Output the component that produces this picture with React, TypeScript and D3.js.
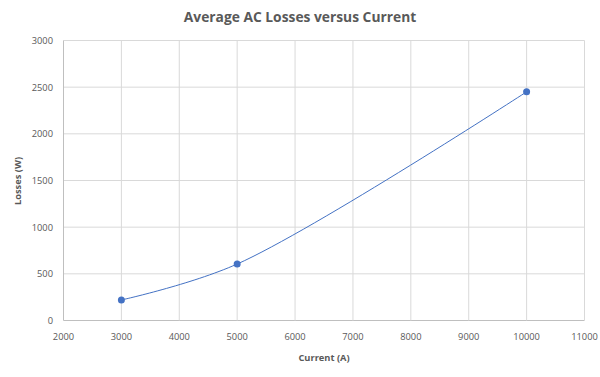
import React from "react";
import * as d3 from "d3";

const currents = [3000, 5000, 10000];
const losses = [220, 605, 2450];
const xTicks = [2000, 3000, 4000, 5000, 6000, 7000, 8000, 9000, 10000, 11000];
const yTicks = [0, 500, 1000, 1500, 2000, 2500, 3000];

export default function App() {
  const W = 600, H = 377;
  const x = d3.scaleLinear().domain([2000, 11000]).range([63.5, 584.5]);
  const y = d3.scaleLinear().domain([0, 3000]).range([320.5, 40.5]);
  const pts: [number, number][] = currents.map((c, i) => [x(c), y(losses[i])]);
  const line = d3.line().curve(d3.curveCatmullRom.alpha(0.5))(pts) || "";
  const font = "Open Sans, sans-serif";
  const grey = "#595959";
  return (
    <svg width={W} height={H} style={{ position: "absolute", left: 0, top: 0, background: "#fff" }}>
      <rect width={W} height={H} fill="#fff" />
      <text x={300} y={22} textAnchor="middle" fontFamily={font} fontSize={13.8} fontWeight="bold" fill={grey}>
        Average AC Losses versus Current
      </text>
      {yTicks.map((t) => (
        <line key={"gy" + t} x1={x(2000)} x2={x(11000)} y1={y(t)} y2={y(t)} stroke={t === 0 ? "#bfbfbf" : "#d9d9d9"} strokeWidth={1} />
      ))}
      {xTicks.map((t) => (
        <line key={"gx" + t} x1={x(t)} x2={x(t)} y1={y(0)} y2={y(3000)} stroke={t === 2000 ? "#bfbfbf" : "#d9d9d9"} strokeWidth={1} />
      ))}
      {yTicks.map((t) => (
        <text key={"ty" + t} x={53} y={y(t) + 3.5} textAnchor="end" fontFamily={font} fontSize={9.3} fill={grey}>
          {t}
        </text>
      ))}
      {xTicks.map((t) => (
        <text key={"tx" + t} x={x(t)} y={340} textAnchor="middle" fontFamily={font} fontSize={9.3} fill={grey}>
          {t}
        </text>
      ))}
      <text x={324} y={361} textAnchor="middle" fontFamily={font} fontSize={9.3} fontWeight="bold" fill={grey}>
        Current (A)
      </text>
      <text transform={`translate(21,181) rotate(-90)`} textAnchor="middle" fontFamily={font} fontSize={9.3} fontWeight="bold" fill={grey}>
        Losses (W)
      </text>
      <path d={line} fill="none" stroke="#4472c4" strokeWidth={1} />
      {pts.map((p, i) => (
        <circle key={i} cx={p[0]} cy={p[1]} r={3.5} fill="#4472c4" />
      ))}
    </svg>
  );
}
